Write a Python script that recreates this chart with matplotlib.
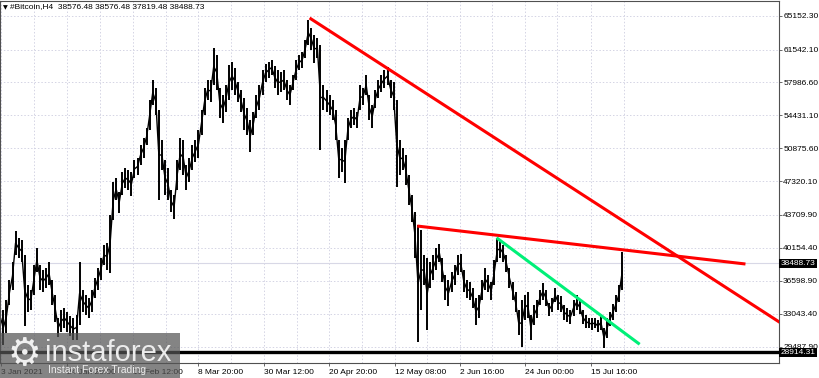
import numpy as np
import pandas as pd
import matplotlib
matplotlib.use('Agg')
import matplotlib.pyplot as plt
from matplotlib.patches import Rectangle

plt.rcParams['font.family'] = ['Liberation Sans', 'DejaVu Sans']

# Daily high / low of #Bitcoin (H4 chart), 3 Jan 2021 -> 26 Jul 2021
highs = [
    34010, 33470, 34550, 36710, 38650, 41990, 41230, 41020, 39400, 36170,
    35630, 38320, 40150, 38320, 37780, 38000, 38650, 36710, 35090, 32610,
    33470, 33690, 33260, 32830, 32610, 32940, 38650, 35630, 35090, 34770,
    35630, 36920, 38000, 39080, 40480, 40690, 43710, 47270, 47700, 46190,
    48340, 48770, 48560, 48340, 49640, 49850, 51250, 52010, 53080, 56100,
    58260, 57390, 55020, 51790, 49640, 48770, 46400, 45870, 49640, 52010,
    51790, 49100, 49850, 51250, 51790, 52870, 55020, 57390, 58260, 58260,
    61700, 60950, 57390, 56640, 57720, 59870, 60200, 59550, 58040, 57180,
    56320, 55240, 53950, 54810, 56640, 57720, 59330, 59980, 60200, 60410,
    59760, 59330, 59120, 59330, 58260, 57720, 58800, 60410, 60950, 61270,
    62570, 64720, 63860, 63110, 62780, 62030, 57720, 57180, 56640, 56100,
    55020, 51790, 50930, 51790, 54160, 55020, 55240, 54810, 57720, 57390,
    58800, 56640, 55560, 57180, 58260, 58800, 59330, 59660, 58260, 58040,
    56100, 51790, 50930, 50180, 48020, 45870, 44030, 42630, 42090, 39400,
    39080, 38650, 39400, 40150, 40590, 39080, 37250, 36710, 37570, 38320,
    39400, 39510, 37780, 36710, 36490, 35840, 34770, 35090, 36710, 38000,
    37250, 36490, 38860, 41230, 41020, 40480, 39400, 38000, 36490, 35410,
    33470, 34550, 35090, 35410, 32940, 34010, 34550, 35630, 36380, 35630,
    34230, 34770, 35840, 35090, 34980, 34010, 33690, 33470, 34550, 35090,
    34550, 33470, 32940, 32610, 32610, 32610, 32400, 32940, 31530, 32610,
    33260, 34120, 35090, 36170, 39720,
]
lows = [
    31320, 29700, 31000, 34010, 35630, 39400, 39080, 38650, 31750, 33260,
    33470, 35090, 37570, 35630, 35410, 35840, 36170, 34010, 32180, 30560,
    31100, 31530, 31100, 30670, 30240, 30240, 31860, 33260, 32940, 32610,
    33260, 34770, 35630, 36710, 38320, 37780, 37460, 43170, 45330, 43930,
    45870, 46620, 46400, 45760, 47700, 48020, 49100, 49850, 51250, 52870,
    55560, 54490, 45330, 48560, 45870, 45330, 44030, 43280, 46400, 48560,
    48020, 46400, 47270, 48560, 49420, 49850, 52330, 54490, 56100, 55890,
    57720, 57180, 54160, 53620, 54810, 56100, 57180, 56640, 55890, 54810,
    52870, 52330, 50500, 52330, 54160, 55020, 56640, 58040, 58470, 58800,
    57390, 56640, 56960, 57180, 56100, 55560, 57180, 58260, 59330, 59550,
    60630, 62030, 61490, 60090, 60630, 50710, 55020, 54810, 54490, 53950,
    51790, 47700, 48340, 47160, 51790, 53080, 53410, 53080, 55020, 55560,
    56640, 53950, 53080, 55240, 56320, 56960, 57390, 57720, 56320, 55020,
    46730, 48020, 48560, 46940, 44790, 42960, 39080, 30030, 33470, 36170,
    31320, 35840, 36710, 37780, 38650, 36490, 34550, 33910, 35410, 36170,
    37250, 37570, 35410, 34770, 34550, 33690, 31860, 32610, 34550, 35630,
    35410, 34550, 36170, 38650, 39080, 38650, 37570, 35840, 34550, 33260,
    30780, 29490, 32400, 32610, 30240, 31860, 32610, 34010, 34550, 33910,
    32830, 33260, 34340, 33470, 33260, 32400, 32180, 31970, 32830, 33470,
    33040, 31970, 31530, 31530, 31320, 31530, 31100, 31320, 29380, 30460,
    31750, 32400, 33260, 34340, 35630,
]
start = pd.Timestamp('2021-01-03')

# trend lines (day offset from 3 Jan, price)
red1_days, red1_prices = [101.44, 256.0], [64936, 32070]
red2_days, red2_prices = [136.75, 244.4], [42520, 38430]
green_days, green_prices = [162.75, 209.7], [41260, 29780]
support = 28914.31
last_price = 38488.73

price_ticks = [65152.30, 61542.10, 57986.60, 54431.10, 50875.60, 47320.10,
               43709.90, 40154.40, 36598.90, 33043.40, 29487.90]
time_labels = ['3 Jan 2021', '24 Jan 20:00', '15 Feb 12:00', '8 Mar 20:00',
               '30 Mar 12:00', '20 Apr 20:00', '12 May 08:00', '2 Jun 16:00',
               '24 Jun 00:00', '15 Jul 16:00']
time_stamps = ['2021-01-03 00:00', '2021-01-24 20:00', '2021-02-15 12:00',
               '2021-03-08 20:00', '2021-03-30 12:00', '2021-04-20 20:00',
               '2021-05-12 08:00', '2021-06-02 16:00', '2021-06-24 00:00',
               '2021-07-15 16:00']

days = np.arange(len(highs))
highs = np.array(highs)
lows = np.array(lows)
tick_days = np.array([(pd.Timestamp(t) - start) / pd.Timedelta(days=1) for t in time_stamps])
tick_days[0] = 0.25
step = np.diff(tick_days[1:]).mean()
grid_days = np.concatenate([tick_days, tick_days + step / 2])

fig = plt.figure(figsize=(8.2, 3.78), dpi=100)
ax = fig.add_axes([0 / 820, 15 / 378, 779 / 820, 362 / 378])
ax.set_xlim(-0.1, 255.4)
ax.set_ylim(27763, 66768)

grid_col = '#d4d4e4'
for p in price_ticks:
    ax.axhline(p, color=grid_col, lw=0.7, ls=(0, (1.5, 2)), zorder=0)
for d in grid_days:
    if d <= 205:
        ax.axvline(d, color=grid_col, lw=0.7, ls=(0, (1.5, 2)), zorder=0)
ax.axhline(last_price, color='#d8d8e6', lw=0.8, zorder=0)

# price bars
ax.vlines(days, lows, highs, color='black', lw=1.4, zorder=2)
ax.plot(days, (highs + lows) / 2, color='black', lw=1.0, zorder=2)

# trend lines
ax.plot(red1_days, red1_prices, color='#ff0000', lw=2.2, zorder=3, solid_capstyle='butt')
ax.plot(red2_days, red2_prices, color='#ff0000', lw=2.2, zorder=3, solid_capstyle='butt')
ax.plot(green_days, green_prices, color='#00f078', lw=2.2, zorder=3, solid_capstyle='butt')
ax.axhline(support, color='black', lw=2.4, zorder=3)

# axes look
for s in ax.spines.values():
    s.set_color('#505050')
    s.set_linewidth(0.8)
ax.yaxis.tick_right()
ax.set_yticks(price_ticks)
ax.set_yticklabels([f'{p:.2f}' for p in price_ticks])
ax.set_xticks(tick_days)
ax.set_xticklabels(time_labels)
ax.tick_params(axis='both', labelsize=6, length=2, width=0.6, color='#505050', pad=1)
plt.setp(ax.get_xticklabels(), ha='left')
ax.tick_params(axis='x', pad=2)

# price tags on the right scale
for val in [last_price, support]:
    ax.text(1.002, val, f'{val:.2f}', transform=ax.get_yaxis_transform(),
            fontsize=6, color='white', va='center', ha='left', zorder=5,
            bbox=dict(boxstyle='square,pad=0.15', fc='black', ec='none'), clip_on=False)

fig.text(3 / 820, 1 - 8 / 378, '\u25bc', fontsize=4.5, va='center', ha='left',
         family=['DejaVu Sans'])
fig.text(10 / 820, 1 - 7 / 378, '#Bitcoin,H4  38576.48 38576.48 37819.48 38488.73',
         fontsize=6, va='center', ha='left')

# instaforex watermark
fig.patches.append(Rectangle((0, 0), 180 / 820, 45 / 378, transform=fig.transFigure,
                             fc='#555555', alpha=0.72, ec='none', zorder=10))
fig.text(24 / 820, 1 - 355 / 378, '\u2699', fontsize=27, color='#f0f0f0',
         ha='center', va='center', family=['DejaVu Sans'], zorder=11)
fig.text(45 / 820, 1 - 361 / 378, 'instaforex', fontsize=21, color='#ececec',
         ha='left', va='baseline', zorder=11)
fig.text(48 / 820, 1 - 373 / 378, 'Instant Forex Trading', fontsize=7.5, color='#ececec',
         ha='left', va='baseline', zorder=11)

fig.savefig('out.png', dpi=100)
